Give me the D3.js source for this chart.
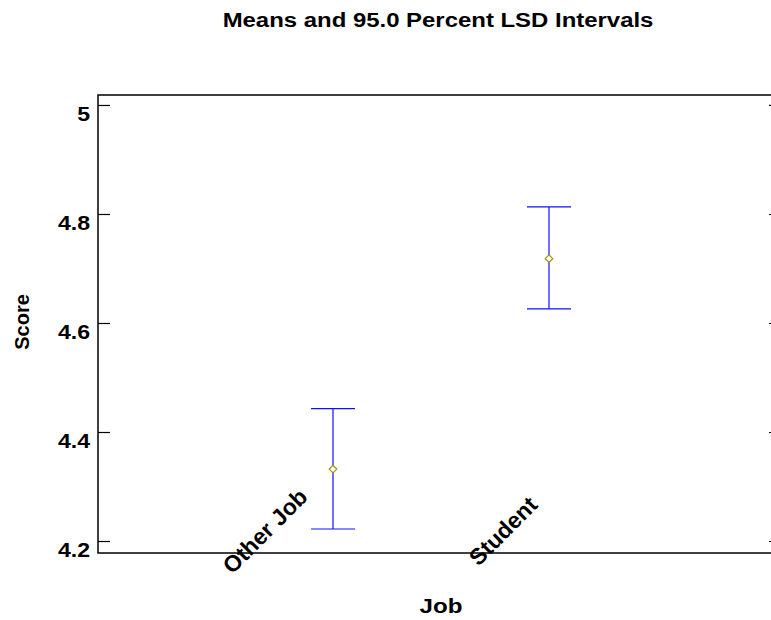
<!DOCTYPE html>
<html lang="en">
<head>
    <meta charset="UTF-8">
    <title>Means and 95.0 Percent LSD Intervals</title>
    <script src="https://d3js.org/d3.v7.min.js"></script>
    <style>
        body { margin: 0; background: #fff; }
        text { font-family: "Liberation Sans", Arial, sans-serif; font-weight: bold; fill: #000; }
    </style>
</head>
<body>
    <script>
        //SVG dimensions and plot box
        var w = 771;
        var h = 620;
        var boxLeft = 98, boxTop = 95, boxRight = 781, boxBottom = 553;

        //Data: group means with LSD interval limits
        var categories = ["Other Job", "Student"];
        var means = [4.332, 4.718];
        var lower = [4.222, 4.626];
        var upper = [4.443, 4.813];
        var yTicks = [4.2, 4.4, 4.6, 4.8, 5];

        var svg = d3.select("body")
            .append("svg")
            .attr("width", w)
            .attr("height", h);

        //x: categories sit at positions 1 and 2
        var xScale = d3.scaleLinear()
            .domain([0, 3])
            .range([117, 765]);

        //rotated category labels have their own placement
        var labelScale = d3.scaleLinear()
            .domain([1, 2])
            .range([265, 503]);

        var yScale = d3.scaleLinear()
            .domain([4.178, 5.0183])
            .range([boxBottom, boxTop]);

        //Plot box
        svg.append("rect")
            .attr("x", boxLeft)
            .attr("y", boxTop)
            .attr("width", boxRight - boxLeft)
            .attr("height", boxBottom - boxTop)
            .attr("fill", "none")
            .attr("stroke", "#000")
            .attr("stroke-width", 1.5);

        //Left axis: inward ticks
        svg.append("g")
            .attr("transform", "translate(" + boxLeft + ",0)")
            .call(d3.axisRight(yScale).tickValues(yTicks).tickSize(12).tickFormat(""))
            .call(function(g) { g.select(".domain").remove(); })
            .selectAll("line").attr("stroke", "#000").attr("stroke-width", 1.2);

        //Right axis: inward ticks
        svg.append("g")
            .attr("transform", "translate(" + boxRight + ",0)")
            .call(d3.axisLeft(yScale).tickValues(yTicks).tickSize(12).tickFormat(""))
            .call(function(g) { g.select(".domain").remove(); })
            .selectAll("line").attr("stroke", "#000").attr("stroke-width", 1.2);

        //Tick labels
        svg.selectAll(".ylab")
            .data(yTicks)
            .enter()
            .append("text")
            .attr("class", "ylab")
            .attr("text-anchor", "end")
            .attr("transform", function(d) {
                return "translate(90," + (yScale(d) + 16) + ") scale(1.1,1)";
            })
            .style("font-size", "21px")
            .text(function(d) { return d; });

        //Category labels rotated
        svg.selectAll(".xlab")
            .data(categories)
            .enter()
            .append("text")
            .attr("class", "xlab")
            .attr("text-anchor", "middle")
            .attr("dominant-baseline", "central")
            .attr("transform", function(d, i) {
                return "translate(" + labelScale(i + 1) + ",531) rotate(-45)";
            })
            .style("font-size", "23px")
            .text(function(d) { return d; });

        //Interval lines and caps
        var bars = svg.selectAll(".bar")
            .data(categories)
            .enter()
            .append("g")
            .attr("class", "bar");

        bars.append("line")
            .attr("x1", function(d, i) { return xScale(i + 1); })
            .attr("x2", function(d, i) { return xScale(i + 1); })
            .attr("y1", function(d, i) { return yScale(upper[i]); })
            .attr("y2", function(d, i) { return yScale(lower[i]); })
            .attr("stroke", "#1010ff")
            .attr("stroke-width", 1.2);

        [upper, lower].forEach(function(lim) {
            bars.append("line")
                .attr("x1", function(d, i) { return xScale(i + 1) - 22; })
                .attr("x2", function(d, i) { return xScale(i + 1) + 22; })
                .attr("y1", function(d, i) { return yScale(lim[i]); })
                .attr("y2", function(d, i) { return yScale(lim[i]); })
                .attr("stroke", "#1010ff")
                .attr("stroke-width", 1.2);
        });

        //Mean markers
        bars.append("path")
            .attr("d", d3.symbol(d3.symbolDiamond2, 36))
            .attr("transform", function(d, i) {
                return "translate(" + xScale(i + 1) + "," + yScale(means[i]) + ")";
            })
            .attr("fill", "#fff")
            .attr("stroke", "#9c9000")
            .attr("stroke-width", 1.2);

        //Titles
        svg.append("text")
            .attr("transform", "translate(438,27) scale(1.14,1)")
            .attr("text-anchor", "middle")
            .style("font-size", "21px")
            .text("Means and 95.0 Percent LSD Intervals");

        svg.append("text")
            .attr("transform", "translate(441,613) scale(1.15,1)")
            .attr("text-anchor", "middle")
            .style("font-size", "21px")
            .text("Job");

        svg.append("text")
            .attr("transform", "translate(29,322) rotate(-90)")
            .attr("text-anchor", "middle")
            .style("font-size", "20px")
            .text("Score");
    </script>
</body>
</html>
